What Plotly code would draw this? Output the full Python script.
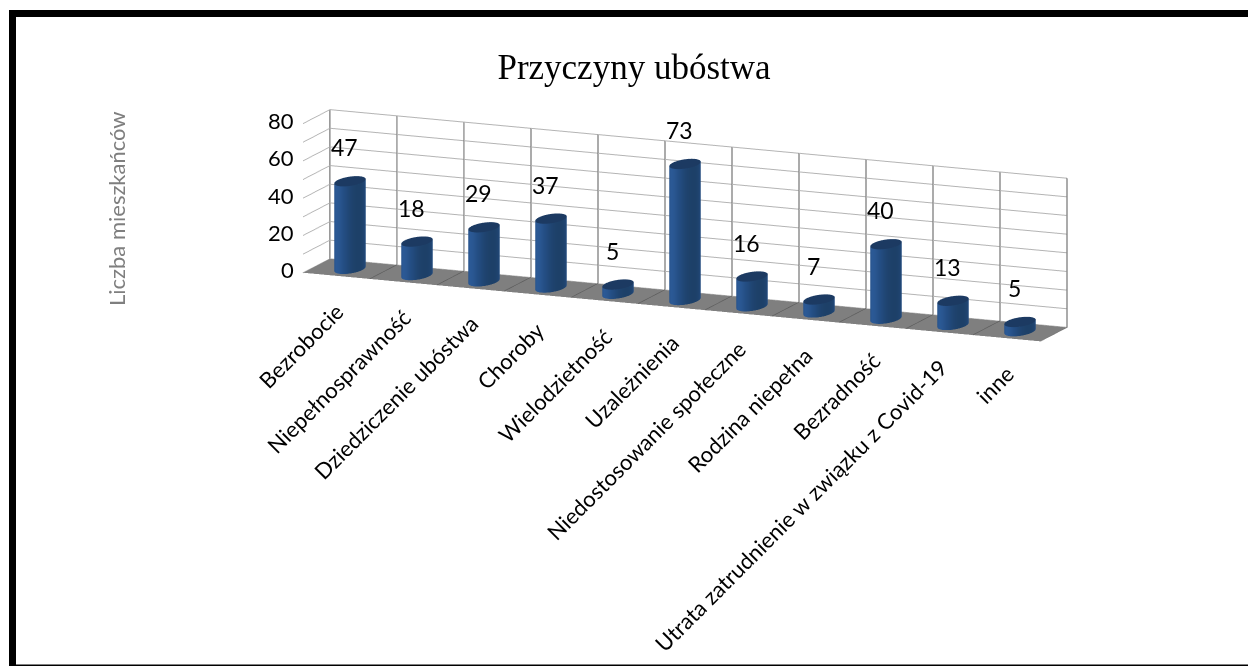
import numpy as np
import plotly.graph_objects as go

categories = ["Bezrobocie", "Niepełnosprawność", "Dziedziczenie ubóstwa", "Choroby", "Wielodzietność",
              "Uzależnienia", "Niedostosowanie społeczne", "Rodzina niepełna", "Bezradność",
              "Utrata zatrudnienie w związku z Covid-19", "inne"]
values = [47, 18, 29, 37, 5, 73, 16, 7, 40, 13, 5]
z_ticks = [0, 10, 20, 30, 40, 50, 60, 70, 80]
z_labels = [0, 20, 40, 60, 80]

EYE = 1.39
ASPECT = dict(x=3.48, y=0.30, z=0.665)
RX, RY = 0.185, 0.36
CX, CZ = 0.0235, -0.018
FONT = "Lato"

fig = go.Figure()
th = np.linspace(0, 2*np.pi, 61)
shade = [[0, "#1d4068"], [0.35, "#234c80"], [0.7, "#295690"], [1, "#2b5a96"]]
light = dict(ambient=1, diffuse=0, specular=0, roughness=1, fresnel=0)
fig.add_trace(go.Mesh3d(x=[-0.5, 10.5, 10.5, -0.5], y=[0, 0, 1, 1], z=[0, 0, 0, 0], i=[0, 0], j=[1, 2], k=[2, 3],
                        color="#7f7f7f", lighting=light, hoverinfo="skip"))
bounds = [i + 0.5 for i in range(-1, 11)]
for b in bounds[1:-1]:
    fig.add_trace(go.Scatter3d(x=[b, b], y=[0, 1], z=[0.15, 0.15], mode="lines",
                               line=dict(color="#5c5c5c", width=1.5), hoverinfo="skip"))
for i, v in enumerate(values):
    X = np.array([i + RX*np.cos(th)]*2)
    Y = np.array([0.5 + RY*np.sin(th)]*2)
    Z = np.array([np.zeros_like(th), np.full_like(th, v)])
    sc = np.array([np.clip(1 - np.abs(np.cos(th + 0.35)), 0, 1)]*2)
    fig.add_trace(go.Surface(x=X, y=Y, z=Z, surfacecolor=sc, colorscale=shade, cmin=0, cmax=1,
                             showscale=False, lighting=light, hoverinfo="skip"))
    rr = np.array([0, 1])
    X2 = i + RX*np.outer(rr, np.cos(th))
    Y2 = 0.5 + RY*np.outer(rr, np.sin(th))
    Z2 = np.full_like(X2, v)
    fig.add_trace(go.Surface(x=X2, y=Y2, z=Z2, surfacecolor=np.zeros_like(X2),
                             colorscale=[[0, "#1c3a62"], [1, "#1c3a62"]], cmin=0, cmax=1,
                             showscale=False, lighting=light, hoverinfo="skip"))

ann = []
for i, (c, v) in enumerate(zip(categories, values)):
    ann.append(dict(x=i, y=0, z=0, text=c, textangle=-45, showarrow=False, xanchor="right", yanchor="top",
                    xshift=15, yshift=-19, font=dict(family=FONT, size=22, color="#000")))
    ann.append(dict(x=i, y=0.5, z=v, text=str(v), showarrow=False, xanchor="center", yanchor="middle",
                    xshift=-6, yshift=34, font=dict(family=FONT, size=23, color="#000")))
for t in z_labels:
    ann.append(dict(x=-0.5, y=0, z=t, text=str(t), showarrow=False, xanchor="right", yanchor="middle",
                    xshift=-7, yshift=3, font=dict(family=FONT, size=22, color="#000")))

axis_base = dict(title="", showticklabels=False, ticks="", zeroline=False, showspikes=False, showline=False)
fig.update_layout(
    width=1248, height=666, margin=dict(l=0, r=0, t=0, b=0), paper_bgcolor="white", showlegend=False,
    title=dict(text="Przyczyny ubóstwa", x=634/1248, y=1-67/666, xanchor="center", yanchor="middle",
               font=dict(family="Liberation Serif", size=35, color="#000")),
    scene=dict(
        domain=dict(x=[0.106, 1], y=[0.309, 1]),
        aspectmode="manual", aspectratio=ASPECT,
        camera=dict(projection=dict(type="orthographic"), up=dict(x=0, y=0, z=1),
                    center=dict(x=CX, y=0, z=CZ),
                    eye=dict(x=0.380*EYE + CX, y=-0.8975*EYE, z=0.2196*EYE + CZ)),
        xaxis=dict(axis_base, range=[-0.5, 10.5], tickvals=bounds, showgrid=True,
                   gridcolor="#787878", gridwidth=2.5, showbackground=False),
        yaxis=dict(axis_base, range=[0, 1], showgrid=False, tickvals=[], showbackground=False),
        zaxis=dict(axis_base, range=[0, 80], tickvals=z_ticks, showgrid=True, gridcolor="#b4b4b4", gridwidth=2,
                   showbackground=False),
        annotations=ann,
    ),
    shapes=[dict(type="rect", xref="paper", yref="paper", x0=12.5/1248, x1=1262/1248, y0=1-668/666, y1=1-13.5/666,
                 line=dict(color="black", width=7), fillcolor="rgba(0,0,0,0)")],
    annotations=[dict(xref="paper", yref="paper", x=117/1248, y=1-209/666, text="Liczba mieszkańców", textangle=-90,
                      showarrow=False, xanchor="center", yanchor="middle",
                      font=dict(family=FONT, size=22, color="#7f7f7f"))],
)
fig.write_html("out.html", config=dict(displayModeBar=False), post_script="document.body.style.margin='0';")
